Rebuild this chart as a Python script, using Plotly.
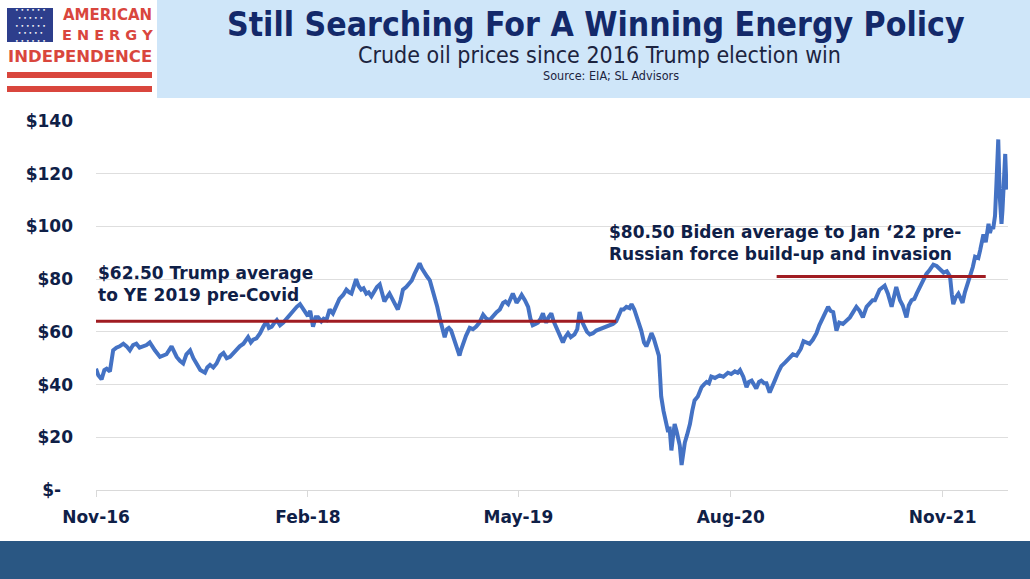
import plotly.graph_objects as go

# ---------- dados (Brent diário) ----------
price_dates = [
    "2016-11-08", "2016-11-13", "2016-11-20", "2016-11-26", "2016-12-01", "2016-12-08",
    "2016-12-15", "2016-12-22", "2016-12-29",
    "2017-01-06", "2017-01-13", "2017-01-20", "2017-01-27", "2017-02-03", "2017-02-10",
    "2017-02-18", "2017-02-25", "2017-03-04", "2017-03-10", "2017-03-15", "2017-03-26",
    "2017-04-02", "2017-04-09", "2017-04-20", "2017-04-25", "2017-05-01", "2017-05-08",
    "2017-05-15", "2017-05-22", "2017-05-30", "2017-06-06", "2017-06-13", "2017-06-21",
    "2017-07-01", "2017-07-06", "2017-07-12", "2017-07-19", "2017-07-26", "2017-08-03",
    "2017-08-10", "2017-08-17", "2017-08-24", "2017-08-31", "2017-09-07", "2017-09-14",
    "2017-09-22", "2017-10-02", "2017-10-08", "2017-10-13", "2017-10-20", "2017-10-28",
    "2017-11-04", "2017-11-11", "2017-11-16", "2017-11-22", "2017-11-28", "2017-12-03",
    "2017-12-10", "2017-12-17", "2017-12-24", "2017-12-31",
    "2018-01-08", "2018-01-15", "2018-01-22", "2018-01-27", "2018-02-02", "2018-02-08",
    "2018-02-13", "2018-02-19", "2018-02-25", "2018-03-02", "2018-03-09", "2018-03-14",
    "2018-03-20", "2018-03-27", "2018-04-03", "2018-04-10", "2018-04-17", "2018-04-25",
    "2018-05-02", "2018-05-08", "2018-05-13", "2018-05-23", "2018-05-28", "2018-06-03",
    "2018-06-08", "2018-06-14", "2018-06-19", "2018-06-25", "2018-07-02", "2018-07-07",
    "2018-07-13", "2018-07-18", "2018-07-23", "2018-07-28", "2018-08-03", "2018-08-09",
    "2018-08-15", "2018-08-21", "2018-08-27", "2018-09-01", "2018-09-08", "2018-09-15",
    "2018-09-20", "2018-09-26", "2018-10-03", "2018-10-07", "2018-10-12", "2018-10-18",
    "2018-10-23", "2018-10-29", "2018-11-03", "2018-11-08", "2018-11-14", "2018-11-19",
    "2018-11-24", "2018-11-30", "2018-12-05", "2018-12-09", "2018-12-14", "2018-12-18",
    "2018-12-22", "2018-12-27",
    "2019-01-01", "2019-01-04", "2019-01-08", "2019-01-15", "2019-01-23", "2019-01-30",
    "2019-02-06", "2019-02-13", "2019-02-21", "2019-02-28", "2019-03-07", "2019-03-14",
    "2019-03-22", "2019-03-29", "2019-04-05", "2019-04-10", "2019-04-16", "2019-04-21",
    "2019-04-26", "2019-05-01", "2019-05-04", "2019-05-10", "2019-05-15", "2019-05-22",
    "2019-05-29", "2019-06-03", "2019-06-08", "2019-06-14", "2019-06-19", "2019-06-25",
    "2019-06-30", "2019-07-04", "2019-07-07", "2019-07-12", "2019-07-18", "2019-07-23",
    "2019-07-29", "2019-08-05", "2019-08-12", "2019-08-17", "2019-08-23", "2019-08-29",
    "2019-09-06", "2019-09-12", "2019-09-17", "2019-09-22", "2019-09-28", "2019-10-03",
    "2019-10-09", "2019-10-16", "2019-10-23", "2019-10-30", "2019-11-06", "2019-11-13",
    "2019-11-21", "2019-11-28", "2019-12-05", "2019-12-10", "2019-12-16", "2019-12-21",
    "2019-12-27",
    "2020-01-03", "2020-01-07", "2020-01-13", "2020-01-18", "2020-01-21", "2020-01-28",
    "2020-02-03", "2020-02-08", "2020-02-14", "2020-02-19", "2020-02-24", "2020-03-01",
    "2020-03-06", "2020-03-09", "2020-03-11", "2020-03-16", "2020-03-22", "2020-03-26",
    "2020-03-29", "2020-04-02", "2020-04-06", "2020-04-09", "2020-04-13", "2020-04-16",
    "2020-04-20", "2020-04-24", "2020-04-28", "2020-05-01", "2020-05-06", "2020-05-12",
    "2020-05-17", "2020-05-22", "2020-05-29", "2020-06-06", "2020-06-11", "2020-06-17",
    "2020-06-22", "2020-06-27", "2020-07-05", "2020-07-15", "2020-07-23", "2020-08-02",
    "2020-08-09", "2020-08-17", "2020-08-23", "2020-08-28", "2020-09-04", "2020-09-11",
    "2020-09-16", "2020-09-22", "2020-09-27", "2020-10-02", "2020-10-08", "2020-10-13",
    "2020-10-19", "2020-10-24", "2020-10-31", "2020-11-05", "2020-11-11", "2020-11-18",
    "2020-11-25", "2020-12-04", "2020-12-13", "2020-12-20", "2020-12-28",
    "2021-01-06", "2021-01-12", "2021-01-18", "2021-01-25", "2021-02-01", "2021-02-09",
    "2021-02-15", "2021-02-20", "2021-02-26", "2021-03-06", "2021-03-11", "2021-03-17",
    "2021-03-24", "2021-03-30", "2021-04-07", "2021-04-14", "2021-04-22", "2021-04-29",
    "2021-05-06", "2021-05-13", "2021-05-20", "2021-05-28", "2021-06-04", "2021-06-10",
    "2021-06-15", "2021-06-25", "2021-07-06", "2021-07-13", "2021-07-21", "2021-07-27",
    "2021-07-31", "2021-08-08", "2021-08-14", "2021-08-22", "2021-08-27", "2021-09-02",
    "2021-09-08", "2021-09-13", "2021-09-23", "2021-09-28", "2021-10-04", "2021-10-11",
    "2021-10-19", "2021-10-26", "2021-11-03", "2021-11-10", "2021-11-17", "2021-11-24",
    "2021-11-28", "2021-12-01", "2021-12-06", "2021-12-12", "2021-12-16", "2021-12-21",
    "2021-12-26", "2021-12-30",
    "2022-01-06", "2022-01-12", "2022-01-17", "2022-01-24", "2022-01-28", "2022-02-04",
    "2022-02-09", "2022-02-15", "2022-02-18", "2022-02-22", "2022-02-25", "2022-03-01",
    "2022-03-04", "2022-03-08", "2022-03-11", "2022-03-15", "2022-03-17", "2022-03-21",
    "2022-03-23", "2022-03-25", "2022-03-28",
]
price_values = [
    46.0, 43.5, 42.0, 45.5, 46.0, 45.0,
    53.0, 54.0, 54.5,
    55.5, 54.5, 53.0, 55.0, 55.5, 54.0,
    54.5, 55.0, 56.0, 54.0, 53.0, 50.5,
    51.0, 51.5, 54.5, 52.5, 50.5, 49.0,
    48.0, 51.5, 53.0, 50.0, 48.0, 45.5,
    44.5, 46.5, 47.5, 46.5, 48.0, 51.0,
    52.0, 50.0, 50.5, 52.0, 53.0, 54.5,
    55.5, 58.0, 56.0, 57.0, 57.5, 59.5,
    62.0, 64.0, 61.5, 62.0, 63.5, 64.5,
    62.5, 63.5, 65.0, 66.5,
    68.5, 69.5, 70.5, 69.0, 67.5, 66.0,
    68.0, 62.0, 65.5, 65.5, 64.0, 65.0,
    64.5, 68.5, 67.0, 70.0, 72.5, 74.0,
    76.0, 75.0, 74.5, 80.0, 77.5, 76.0,
    76.5, 74.5, 75.0, 73.5, 76.0, 77.0,
    78.0, 74.0, 71.5, 73.0, 74.5, 72.5,
    70.5, 68.5, 72.0, 76.0, 77.0, 78.5,
    79.5, 82.0, 85.0, 86.0, 84.0, 82.0,
    81.0, 79.5, 76.5, 73.5, 69.5, 65.5,
    62.0, 58.0, 61.0, 61.5, 60.5, 58.5,
    57.0, 53.5,
    51.0, 53.0, 55.5, 58.5, 61.5, 61.0,
    62.0, 63.5, 66.5, 65.0, 64.5, 66.0,
    67.5, 68.5, 71.0, 71.5, 70.5, 72.5,
    74.5, 72.5, 71.0, 72.5, 74.0, 72.0,
    69.5, 65.0, 62.5, 63.0, 63.5, 65.0,
    67.0, 64.5, 63.5, 65.5, 67.0, 64.0,
    61.5, 59.0, 56.0, 58.0, 59.5, 58.0,
    59.0, 61.0, 67.5, 64.0, 61.5, 60.0,
    59.0, 59.5, 60.5, 61.0, 61.5, 62.0,
    62.5, 63.0, 64.0, 66.0, 68.5, 68.5,
    69.5,
    69.0, 70.5, 68.5, 66.0, 64.5, 60.5,
    56.0, 54.5, 57.0, 59.5, 57.5, 54.5,
    51.0, 42.0, 35.5, 30.0, 24.0, 22.0,
    24.0, 15.0, 21.0, 25.0, 22.5, 20.0,
    17.0, 9.5, 14.0, 18.0, 21.0, 25.0,
    30.0, 34.0, 35.5, 39.0, 40.0, 41.0,
    40.5, 43.0, 42.5, 43.5, 43.0, 44.5,
    44.0, 45.0, 44.5, 45.5, 43.0, 39.0,
    41.0, 41.5, 40.0, 38.5, 41.0, 41.5,
    40.5, 40.5, 37.0, 39.5, 41.5, 44.5,
    47.0, 48.5, 50.0, 51.5, 51.0,
    53.5, 56.5, 56.0, 55.5, 57.0, 59.5,
    62.5, 64.5, 66.0, 69.5, 68.0, 67.5,
    60.5, 63.5, 63.0, 64.0, 65.5, 67.5,
    69.5, 68.0, 65.5, 69.5, 71.0, 72.0,
    72.0, 76.0, 77.5, 74.5, 69.5, 74.0,
    77.0, 72.0, 70.0, 65.5, 70.0, 72.0,
    72.5, 74.5, 78.5, 80.0, 82.0, 83.5,
    85.5, 85.0, 83.5, 82.5, 83.0, 81.0,
    74.0, 70.5, 73.0, 74.5, 73.0, 71.0,
    75.0, 77.0,
    81.0, 84.5, 88.5, 88.0, 91.0, 97.0,
    94.0, 101.0, 97.5, 100.0, 99.0, 104.0,
    116.0, 133.0, 112.0, 101.0, 106.0, 120.0,
    127.5, 118.0, 114.0,
]
assert len(price_dates) == len(price_values)

# médias (linhas vermelhas), como desenhadas no gráfico
trump_avg_dates = ["2016-11-08", "2019-12-05"]
trump_avg_level = [64.0, 64.0]
biden_avg_dates = ["2020-11-15", "2022-02-09"]
biden_avg_level = [81.0, 81.0]

y_ticks = [0, 20, 40, 60, 80, 100, 120, 140]
y_labels = ["$-\u2007", "$20", "$40", "$60", "$80", "$100", "$120", "$140"]
x_ticks = ["2016-11-08", "2018-02-08", "2019-05-08", "2020-08-08", "2021-11-08"]
x_labels = ["Nov-16", "Feb-18", "May-19", "Aug-20", "Nov-21"]

# ---------- geometria da página ----------
W, H = 1030, 579
L, R, T, B = 96, 22, 121, 89
def xp(px):
    return (px - L) / (W - L - R)
def yp(py):
    return (H - B - py) / (H - T - B)

NAVY = "#0f2047"
RED = "#d9463d"
BLUE = "#4472c4"
DARKRED = "#a01c22"
FONT = "DejaVu Sans, Verdana, sans-serif"
HEAD_FONT = "DejaVu Sans Condensed, DejaVu Sans, sans-serif"

fig = go.Figure()
fig.add_trace(go.Scatter(x=price_dates, y=price_values, mode="lines",
                         line=dict(color=BLUE, width=4), hoverinfo="x+y"))
fig.add_trace(go.Scatter(x=trump_avg_dates, y=trump_avg_level, mode="lines",
                         line=dict(color=DARKRED, width=3)))
fig.add_trace(go.Scatter(x=biden_avg_dates, y=biden_avg_level, mode="lines",
                         line=dict(color=DARKRED, width=3)))

shapes = [
    # faixa azul clara do título
    dict(type="rect", xref="paper", yref="paper", x0=xp(157), x1=xp(W), y0=yp(98), y1=yp(0),
         fillcolor="#cfe6f9", line_width=0, layer="below"),
    # faixa azul inferior
    dict(type="rect", xref="paper", yref="paper", x0=xp(0), x1=xp(W), y0=yp(H), y1=yp(541),
         fillcolor="#2a5783", line_width=0, layer="below"),
    # logo: bandeira
    dict(type="rect", xref="paper", yref="paper", x0=xp(7), x1=xp(53), y0=yp(42), y1=yp(8),
         fillcolor="#2d3e8c", line_width=0),
    dict(type="rect", xref="paper", yref="paper", x0=xp(7), x1=xp(152), y0=yp(78), y1=yp(72),
         fillcolor=RED, line_width=0),
    dict(type="rect", xref="paper", yref="paper", x0=xp(7), x1=xp(152), y0=yp(92), y1=yp(86),
         fillcolor=RED, line_width=0),
]

def note(text, x, y, size, color=NAVY, family=FONT, xanchor="center", **kw):
    return dict(text=text, xref="paper", yref="paper", x=xp(x), y=yp(y), xanchor=xanchor,
                yanchor="middle", showarrow=False, font=dict(size=size, color=color, family=family),
                **kw)

stars = "<br>".join(["• • • • • •", " • • • • • ", "• • • • • •", " • • • • • ", "• • • • • •"])
annotations = [
    note("<b>Still Searching For A Winning Energy Policy</b>", 596, 24, 33.5, color="#13296a",
         family=HEAD_FONT),
    note("Crude oil prices since 2016 Trump election win", 599, 55, 23, color="#1c2440",
         family=HEAD_FONT),
    note("Source: EIA; SL Advisors", 611, 75, 12.5, color="#1c2440", family=HEAD_FONT),
    note(stars, 30, 25, 6, color="white"),
    note("<b>AMERICAN</b>", 107, 15, 15, color=RED),
    note("<b>E N E R G Y</b>", 107, 35, 14.5, color=RED),
    note("<b>INDEPENDENCE</b>", 79.5, 56, 16.5, color=RED),
    note("<b>$62.50 Trump average<br>to YE 2019 pre-Covid</b>", 96, 284, 17, xanchor="left",
         align="left"),
    note("<b>$80.50 Biden average to Jan \u201822 pre-<br>Russian force build-up and invasion</b>",
         607, 243, 17, xanchor="left", align="left"),
]

fig.update_layout(
    width=W, height=H,
    margin=dict(l=L, r=R, t=T, b=B),
    paper_bgcolor="white", plot_bgcolor="white",
    showlegend=False,
    font=dict(family=FONT, color=NAVY),
    shapes=shapes, annotations=annotations,
    xaxis=dict(type="date", range=["2016-11-08", "2022-03-29"],
               tickvals=x_ticks, ticktext=x_labels,
               tickfont=dict(size=17, color=NAVY, family=FONT, weight="bold"),
               showgrid=False, showline=True, linecolor="#d9d9d9", linewidth=1,
               ticks="outside", ticklen=6, tickcolor="#d9d9d9", ticklabelstandoff=6,
               zeroline=False),
    yaxis=dict(range=[0, 140], tickvals=y_ticks, ticktext=y_labels,
               tickfont=dict(size=17, color=NAVY, family=FONT, weight="bold"),
               showgrid=True, gridcolor="#dedede", gridwidth=1, zeroline=False,
               ticks="", ticklabelstandoff=22),
)

# corpo da página sem margem, para a figura ocupar a janela toda
fig.write_html("out.html", config={"displayModeBar": False},
               post_script="document.body.style.margin='0';")
